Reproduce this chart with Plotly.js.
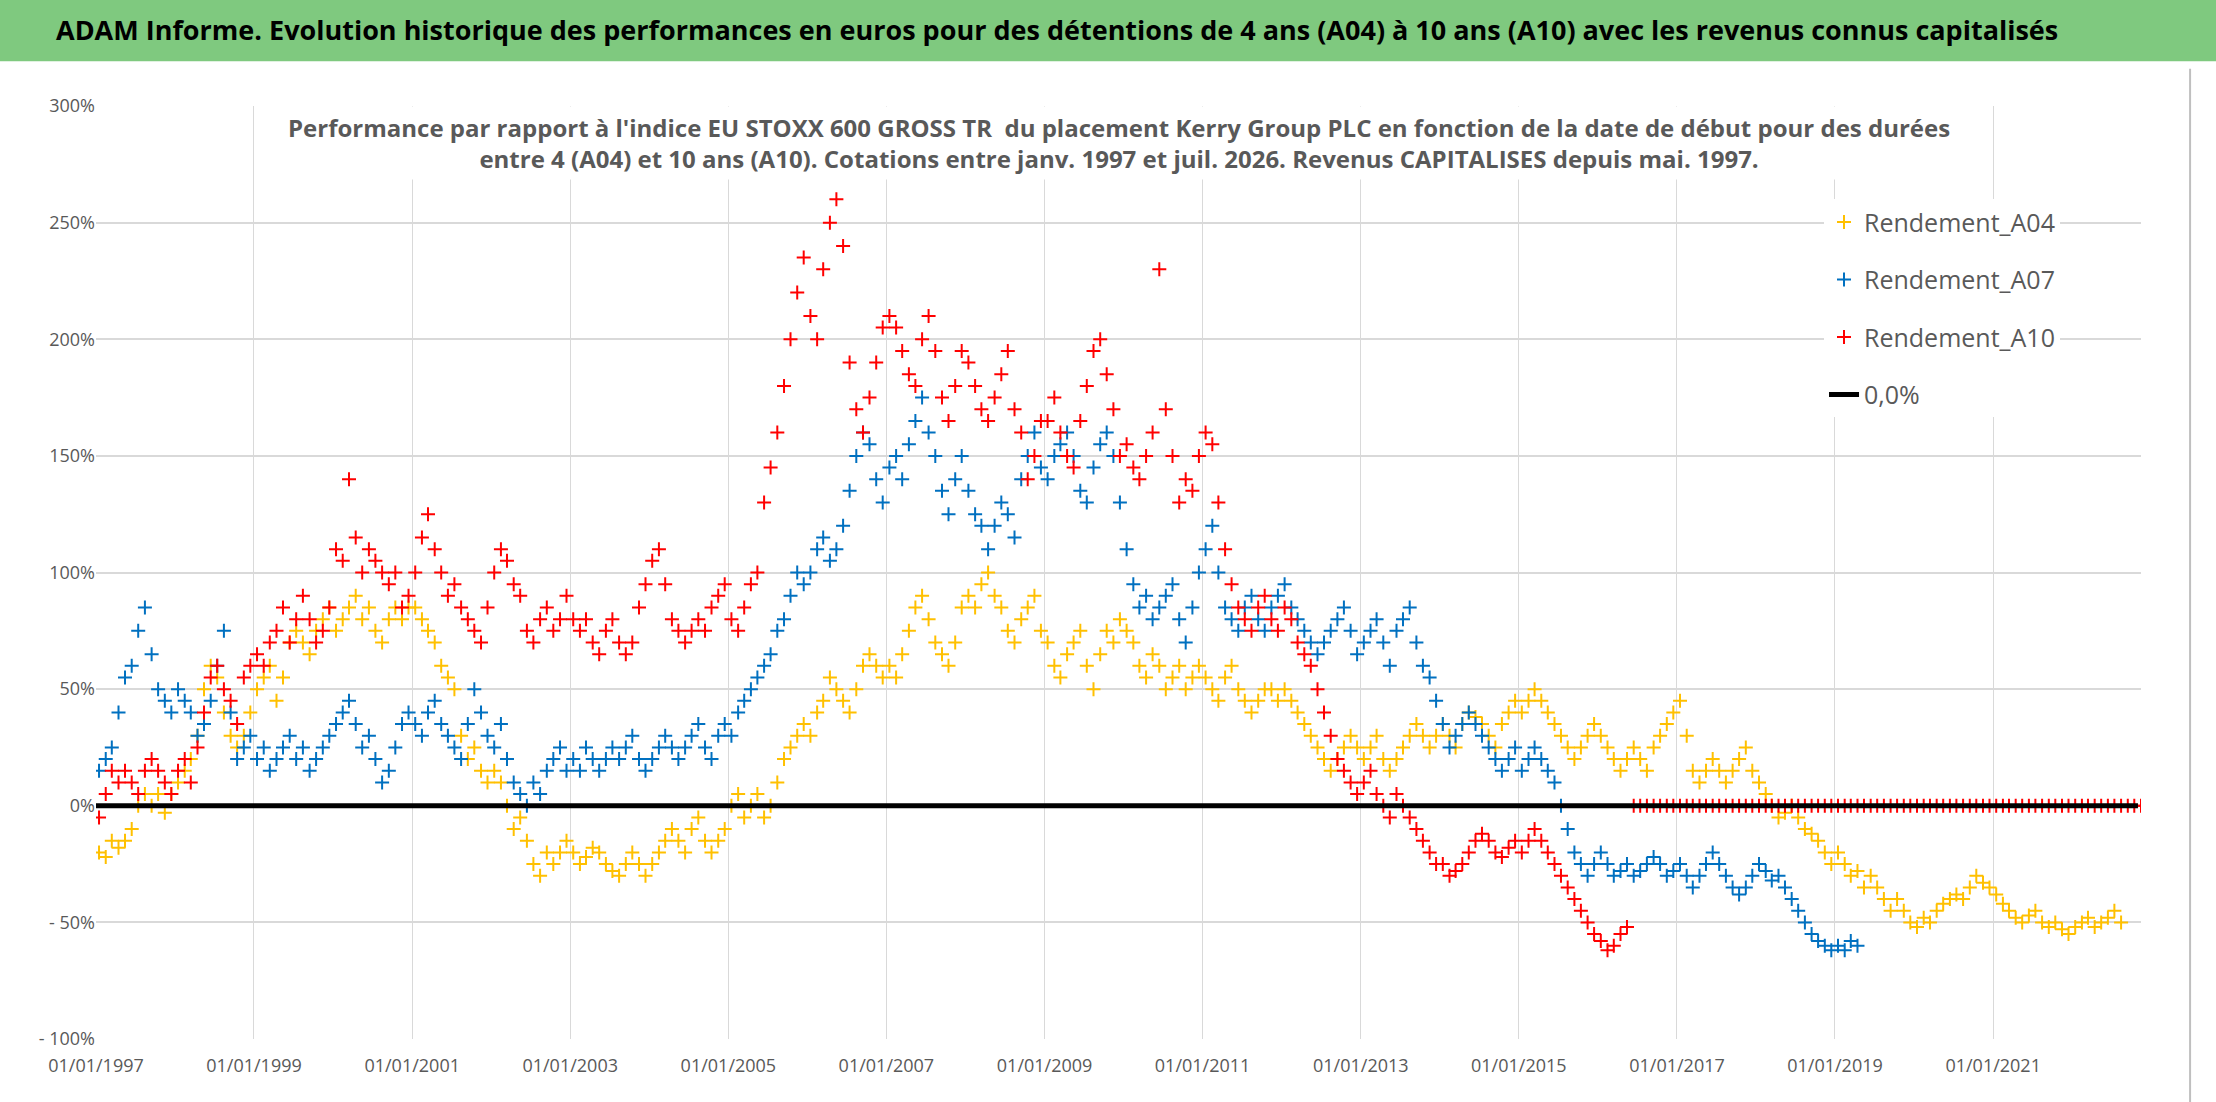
<!DOCTYPE html>
<html>
<head>
<meta charset="utf-8">
<script src="https://cdn.plot.ly/plotly-3.0.1.min.js"></script>
<style>body{margin:0;background:#fff}#chart{width:2216px;height:1102px}</style>
</head>
<body>
<div id="chart"></div>
<script>
// monthly estimates, first value = Jan 1997
const a04 = [
  -20,-22,-15,-18,-15,-10,0,5,0,5,-3,5,
  10,15,20,30,50,60,55,40,30,25,30,40,
  50,55,60,45,55,70,75,70,65,75,80,85,
  75,80,85,90,80,85,75,70,80,85,80,85,
  85,80,75,70,60,55,50,30,20,25,15,10,
  15,10,0,-10,-5,-15,-25,-30,-20,-25,-20,-15,
  -20,-25,-22,-18,-20,-25,-28,-30,-25,-20,-25,-30,
  -25,-20,-15,-10,-15,-20,-10,-5,-15,-20,-15,-10,
  0,5,-5,0,5,-5,0,10,20,25,30,35,
  30,40,45,55,50,45,40,50,60,65,60,55,
  60,55,65,75,85,90,80,70,65,60,70,85,
  90,85,95,100,90,85,75,70,80,85,90,75,
  70,60,55,65,70,75,60,50,65,75,70,80,
  75,70,60,55,65,60,50,55,60,50,55,60,
  55,50,45,55,60,50,45,40,45,50,50,45,
  50,45,40,35,30,25,20,15,20,25,30,25,
  20,25,30,20,15,20,25,30,35,30,25,30,
  35,30,25,35,40,38,35,30,25,35,40,45,
  40,45,50,45,40,35,30,25,20,25,30,35,
  30,25,20,15,20,25,20,15,25,30,35,40,
  45,30,15,10,15,20,15,10,15,20,25,15,
  10,5,0,-5,-3,0,-5,-10,-12,-15,-20,-25,
  -20,-25,-30,-28,-35,-30,-35,-40,-45,-40,-45,-50,
  -52,-48,-50,-45,-42,-40,-38,-40,-35,-30,-33,-35,
  -38,-42,-45,-48,-50,-47,-45,-50,-52,-50,-53,-55,
  -52,-50,-48,-52,-50,-48,-45,-50
];
const a07 = [
  15,20,25,40,55,60,75,85,65,50,45,40,
  50,45,40,30,35,45,60,75,40,20,25,30,
  20,25,15,20,25,30,20,25,15,20,25,30,
  35,40,45,35,25,30,20,10,15,25,35,40,
  35,30,40,45,35,30,25,20,35,50,40,30,
  25,35,20,10,5,0,10,5,15,20,25,15,
  20,15,25,20,15,20,25,20,25,30,20,15,
  20,25,30,25,20,25,30,35,25,20,30,35,
  30,40,45,50,55,60,65,75,80,90,100,95,
  100,110,115,105,110,120,135,150,160,155,140,130,
  145,150,140,155,165,175,160,150,135,125,140,150,
  135,125,120,110,120,130,125,115,140,150,160,145,
  140,150,155,160,150,135,130,145,155,160,150,130,
  110,95,85,90,80,85,90,95,80,70,85,100,
  110,120,100,85,80,75,85,90,80,75,85,90,
  95,85,80,75,70,65,70,75,80,85,75,65,
  70,75,80,70,60,75,80,85,70,60,55,45,
  35,25,30,35,40,35,30,25,20,15,20,25,
  15,20,25,20,15,10,0,-10,-20,-25,-30,-25,
  -20,-25,-30,-28,-25,-30,-28,-25,-22,-25,-30,-28,
  -25,-30,-35,-30,-25,-20,-25,-30,-35,-38,-35,-30,
  -25,-28,-32,-30,-35,-40,-45,-50,-55,-58,-60,-62,
  -60,-62,-58,-60
];
const a10 = [
  -5,5,15,10,15,10,5,15,20,15,10,5,
  15,20,10,25,40,55,60,50,45,35,55,60,
  65,60,70,75,85,70,80,90,80,70,75,85,
  110,105,140,115,100,110,105,100,95,100,85,90,
  100,115,125,110,100,90,95,85,80,75,70,85,
  100,110,105,95,90,75,70,80,85,75,80,90,
  80,75,80,70,65,75,80,70,65,70,85,95,
  105,110,95,80,75,70,75,80,75,85,90,95,
  80,75,85,95,100,130,145,160,180,200,220,235,
  210,200,230,250,260,240,190,170,160,175,190,205,
  210,205,195,185,180,200,210,195,175,165,180,195,
  190,180,170,165,175,185,195,170,160,140,150,165,
  165,175,160,150,145,165,180,195,200,185,170,150,
  155,145,140,150,160,230,170,150,130,140,135,150,
  160,155,130,110,95,85,80,75,85,90,80,75,
  85,80,70,65,60,50,40,30,20,15,10,5,
  10,15,5,0,-5,5,0,-5,-10,-15,-20,-25,
  -25,-30,-28,-25,-20,-15,-12,-15,-20,-22,-18,-15,
  -20,-15,-10,-15,-20,-25,-30,-35,-40,-45,-50,-55,
  -58,-62,-60,-55,-52,
  0,0,0,0,0,0,0,
  0,0,0,0,0,0,0,0,0,0,0,0,
  0,0,0,0,0,0,0,0,0,0,0,0,
  0,0,0,0,0,0,0,0,0,0,0,0,
  0,0,0,0,0,0,0,0,0,0,0,0,
  0,0,0,0,0,0,0,0,0,0,0,0,
  0,0,0,0,0,0,0,0,0,0,0
];
const zeroLineDates = ['1997-01-01', '2022-11-01'];
const zeroLineValues = [0, 0];
const yTickVals = [-100, -50, 0, 50, 100, 150, 200, 250, 300];
const yTickText = ['- 100%', '- 50%', '0%', '50%', '100%', '150%', '200%', '250%', '300%'];
const xTickVals = ['1997-01-01','1999-01-01','2001-01-01','2003-01-01','2005-01-01','2007-01-01','2009-01-01','2011-01-01','2013-01-01','2015-01-01','2017-01-01','2019-01-01','2021-01-01'];
const xTickText = xTickVals.map(d => d.slice(8,10) + '/' + d.slice(5,7) + '/' + d.slice(0,4));

const monthDates = n => Array.from({length: n}, (_, i) => {
  const y = 1997 + Math.floor(i / 12), m = (i % 12) + 1;
  return y + '-' + String(m).padStart(2, '0') + '-15';
});

const FONT = '"Open Sans", sans-serif';
const cross = (color, name, ys) => ({
  x: monthDates(ys.length), y: ys, name, legendgroup: name, type: 'scatter', mode: 'markers',
  marker: {symbol: 'cross-thin', size: 10, line: {color, width: 2}, color},
});

const traces = [
  cross('#ffc000', 'Rendement_A04', a04),
  cross('#0070c0', 'Rendement_A07', a07),
  cross('#ff0000', 'Rendement_A10', a10),
  {x: zeroLineDates, y: zeroLineValues, name: '0,0%', legendgroup: 'zero', type: 'scatter', mode: 'lines',
   line: {color: '#000', width: 5}},
];

const layout = {
  width: 2216, height: 1102,
  margin: {l: 96, r: 75, t: 106, b: 63},
  paper_bgcolor: '#fff', plot_bgcolor: '#fff',
  showlegend: true,
  legend: {x: 0.845, y: 0.9, xanchor: 'left', yanchor: 'top', bgcolor: '#fff',
    traceorder: 'grouped', tracegroupgap: 22,
    font: {family: FONT, size: 25, color: '#595959'}},
  xaxis: {type: 'date', range: ['1997-01-01', '2022-11-15'], tickvals: xTickVals, ticktext: xTickText,
    showgrid: true, gridcolor: '#d9d9d9', zeroline: false, showline: false, ticks: '',
    ticklabelstandoff: 14,
    tickfont: {family: FONT, size: 18, color: '#595959'}},
  yaxis: {range: [-100, 300], tickvals: yTickVals, ticktext: yTickText, showgrid: true,
    gridcolor: '#d9d9d9', gridwidth: 2, zeroline: false, ticks: '',
    tickfont: {family: FONT, size: 18, color: '#595959'}},
  shapes: [
    {type: 'rect', xref: 'paper', yref: 'paper', x0: -0.05, x1: 1.04, y0: 1.048, y1: 1.115,
     fillcolor: '#7fc97f', line: {width: 0}, layer: 'below'},
    {type: 'line', xref: 'paper', yref: 'paper', x0: 1.024, x1: 1.024, y0: -0.07, y1: 1.04,
     line: {color: '#bfbfbf', width: 2}},
  ],
  annotations: [
    {xref: 'paper', yref: 'paper', x: 0.47, y: 1.082, yanchor: 'middle', showarrow: false,
     text: 'ADAM Informe. Evolution historique des performances en euros pour des détentions de 4 ans (A04) à 10 ans (A10) avec les revenus connus capitalisés',
     font: {family: FONT, size: 27, color: '#000', weight: 'bold'}},
    {xref: 'paper', yref: 'paper', x: 0.5, y: 1.0, yanchor: 'top', showarrow: false,
     text: "Performance par rapport à l'indice EU STOXX 600 GROSS TR  du placement Kerry Group PLC en fonction de la date de début pour des durées<br>entre 4 (A04) et 10 ans (A10). Cotations entre janv. 1997 et juil. 2026. Revenus CAPITALISES depuis mai. 1997.",
     font: {family: FONT, size: 24, color: '#595959', weight: 'bold'}, bgcolor: '#fff', borderpad: 4},
  ],
};

Plotly.newPlot('chart', traces, layout, {displayModeBar: false});
</script>
</body>
</html>
